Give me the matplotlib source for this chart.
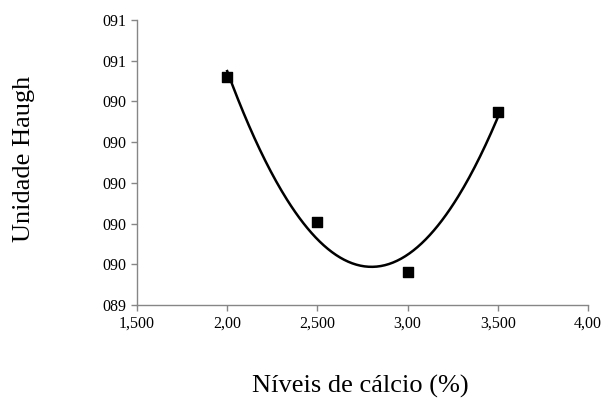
import numpy as np
import matplotlib.pyplot as plt

# Data
calcio = [2.0, 2.5, 3.0, 3.5]
haugh = [90.52, 89.81, 89.56, 90.35]

x_ticks = [1.5, 2.0, 2.5, 3.0, 3.5, 4.0]
x_tick_labels = ['1,500', '2,00', '2,500', '3,00', '3,500', '4,00']
y_ticks = [89.4, 89.6, 89.8, 90.0, 90.2, 90.4, 90.6, 90.8]

plt.rcParams['font.family'] = ['Liberation Serif', 'DejaVu Serif']

fig = plt.figure(figsize=(6.03, 4.03), dpi=100)
ax = fig.add_axes([0.2272, 0.2432, 0.7478, 0.7072])

# Points
ax.scatter(calcio, haugh, marker='s', s=55, color='black', zorder=3)

# Polynomial trendline (order 2)
coef = np.polyfit(calcio, haugh, 2)
xs = np.linspace(min(calcio), max(calcio), 200)
ax.plot(xs, np.polyval(coef, xs), color='black', linewidth=1.8, zorder=2)

ax.set_xlim(1.5, 4.0)
ax.set_ylim(89.4, 90.8)
ax.set_xticks(x_ticks)
ax.set_xticklabels(x_tick_labels)
ax.set_yticks(y_ticks)
ax.set_yticklabels(['%03.0f' % v for v in y_ticks])

for s in ['top', 'right']:
    ax.spines[s].set_visible(False)
for s in ['left', 'bottom']:
    ax.spines[s].set_color('#868686')
    ax.spines[s].set_linewidth(1.0)
ax.tick_params(colors='#868686', labelcolor='black', labelsize=11.5, length=4, width=1.0)

fig.text(0.597, 0.040, 'Níveis de cálcio (%)', fontsize=19, ha='center', va='center')
fig.text(0.040, 0.605, 'Unidade Haugh', fontsize=19, rotation=90, ha='center', va='center')

plt.savefig('out.png', dpi=100)
